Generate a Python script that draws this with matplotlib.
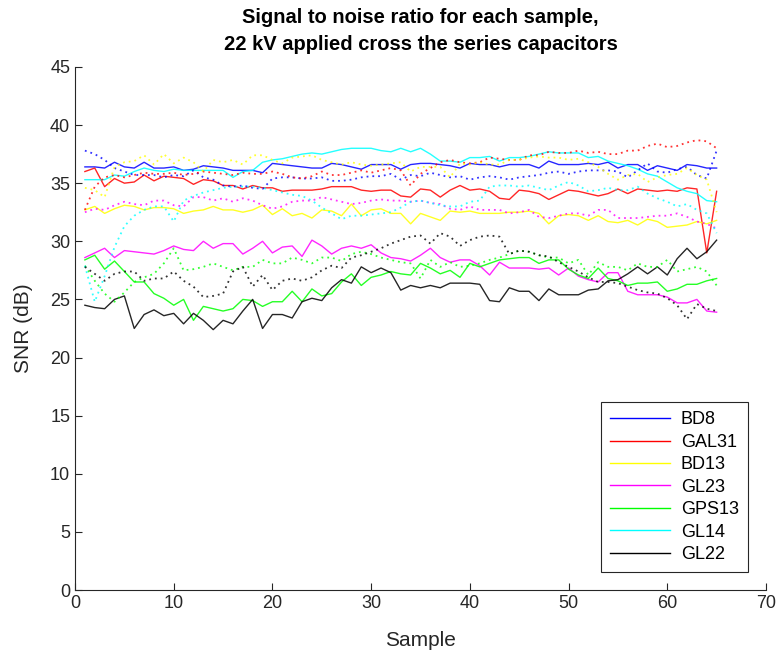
import numpy as np
import matplotlib
matplotlib.use("Agg")
import matplotlib.pyplot as plt

plt.rcParams['font.family'] = ['Liberation Sans', 'DejaVu Sans']

# SNR per sample (dB), two runs per capacitor: solid = run 1, dotted = run 2
names = ['BD8', 'GAL31', 'BD13', 'GL23', 'GPS13', 'GL14', 'GL22']
colors = ['#0000ff', '#ff0000', '#ffff00', '#ff00ff', '#00ff00', '#00ffff', '#000000']

BD8 = [36.4, 36.4, 36.3, 36.8, 36.4, 36.3, 36.8, 36.3, 36.3, 36.4, 36.1, 36.2, 36.5, 36.4, 36.3, 36.1,
       36.1, 36.1, 35.9, 36.7, 36.6, 36.5, 36.4, 36.3, 36.3, 36.7, 36.6, 36.4, 36.2, 36.6, 36.6, 36.6,
       36.2, 36.6, 36.7, 36.7, 36.6, 36.5, 36.3, 36.7, 36.6, 36.6, 36.4, 36.6, 36.6, 36.6, 36.3, 36.9,
       36.6, 36.6, 36.6, 36.7, 36.6, 36.8, 36.3, 36.6, 36.6, 36.1, 36.5, 36.3, 36.1, 36.6, 36.5, 36.3, 36.3]
GAL31 = [36.0, 36.3, 34.7, 35.4, 35.0, 35.1, 35.7, 35.2, 35.6, 35.5, 35.4, 34.9, 35.3, 35.2, 34.8, 34.8,
         34.5, 34.8, 34.6, 34.6, 34.3, 34.4, 34.4, 34.4, 34.5, 34.7, 34.7, 34.7, 34.4, 34.3, 34.4, 34.4,
         33.9, 33.8, 34.5, 34.4, 33.8, 34.4, 34.8, 34.4, 34.5, 34.3, 33.7, 33.6, 34.4, 34.3, 34.1, 33.6,
         34.0, 34.4, 34.3, 34.1, 33.9, 34.1, 34.5, 34.1, 34.5, 34.4, 34.3, 34.4, 34.3, 34.6, 34.5, 29.0, 34.3]
BD13 = [32.7, 33.0, 32.4, 32.8, 33.1, 33.0, 32.7, 32.9, 32.9, 32.8, 32.4, 32.6, 32.7, 33.0, 32.7, 32.7,
        32.5, 32.7, 33.1, 32.3, 32.8, 32.2, 32.4, 32.0, 32.7, 32.6, 32.2, 33.2, 32.2, 32.7, 32.8, 32.4,
        32.4, 31.5, 32.4, 32.1, 31.8, 32.6, 32.5, 32.6, 32.4, 32.4, 32.4, 32.5, 32.5, 32.6, 32.4, 31.5,
        32.2, 32.3, 32.2, 31.8, 32.2, 31.7, 31.6, 31.8, 31.4, 31.9, 31.7, 31.2, 31.3, 31.4, 31.7, 31.5, 31.8]
GL23 = [28.6, 29.0, 29.4, 28.6, 29.2, 29.1, 29.0, 28.9, 29.2, 29.6, 29.3, 29.2, 30.0, 29.4, 29.8, 29.8,
        28.9, 29.4, 30.0, 29.0, 29.5, 29.6, 28.7, 30.1, 29.6, 28.9, 29.4, 29.6, 29.4, 29.7, 29.0, 28.6,
        28.5, 28.3, 28.8, 29.4, 28.6, 28.2, 28.4, 28.4, 27.9, 27.1, 28.2, 27.7, 27.7, 27.7, 27.6, 27.7,
        27.1, 27.7, 27.0, 26.7, 26.5, 27.3, 27.3, 25.7, 25.4, 25.4, 25.4, 25.2, 24.7, 24.7, 25.0, 24.0, 23.9]
GPS13 = [28.4, 28.8, 27.6, 28.3, 27.4, 26.5, 26.5, 25.5, 25.1, 24.5, 25.0, 23.2, 24.4, 24.2, 24.0, 24.2,
         25.0, 24.9, 24.4, 24.8, 24.8, 25.7, 24.8, 25.9, 25.3, 25.5, 26.5, 27.2, 26.2, 26.9, 27.1, 27.4,
         27.2, 27.1, 28.1, 27.7, 27.2, 27.5, 26.9, 28.1, 27.8, 28.1, 28.4, 28.5, 28.6, 28.6, 28.1, 28.4,
         28.4, 27.6, 27.1, 26.8, 27.7, 26.8, 26.6, 26.2, 26.4, 26.4, 26.5, 25.7, 25.9, 26.3, 26.3, 26.6, 26.8]
GL14 = [35.3, 35.3, 35.3, 35.7, 35.6, 36.0, 36.3, 36.1, 36.0, 36.2, 36.1, 36.1, 36.1, 36.1, 36.1, 35.5,
        36.0, 36.1, 36.8, 37.0, 37.1, 37.3, 37.5, 37.6, 37.5, 37.7, 37.9, 38.0, 38.0, 38.0, 37.8, 37.7,
        38.0, 37.7, 38.0, 37.5, 36.9, 36.9, 36.8, 37.2, 37.2, 37.3, 36.9, 37.2, 37.2, 37.3, 37.5, 37.7,
        37.6, 37.6, 37.6, 37.2, 37.3, 36.9, 36.7, 36.5, 36.2, 35.8, 35.6, 35.1, 34.6, 34.3, 34.1, 33.5, 33.4]
GL22 = [24.5, 24.3, 24.2, 25.0, 25.3, 22.5, 23.7, 24.1, 23.6, 23.8, 22.9, 23.8, 23.2, 22.4, 23.2, 22.9,
        24.0, 25.0, 22.5, 23.7, 23.7, 23.4, 24.8, 25.1, 24.9, 26.0, 26.7, 26.4, 27.8, 27.3, 27.7, 27.3,
        25.8, 26.2, 26.0, 26.2, 26.0, 26.4, 26.4, 26.4, 26.3, 24.9, 24.8, 26.0, 25.7, 25.7, 24.9, 25.9,
        25.4, 25.4, 25.4, 25.8, 25.9, 26.6, 26.7, 27.2, 27.8, 27.2, 27.8, 27.1, 28.5, 29.4, 28.5, 29.1, 30.1]

BD8_2 = [37.8, 37.5, 37.0, 36.3, 36.0, 35.7, 35.7, 35.7, 35.5, 35.7, 35.6, 36.1, 35.5, 35.3, 34.8, 34.7,
         34.8, 34.6, 34.5, 35.4, 35.5, 35.5, 35.4, 35.4, 35.5, 35.2, 35.2, 35.3, 35.5, 35.6, 35.6, 35.8,
         35.3, 35.7, 35.6, 35.9, 35.7, 35.5, 35.6, 35.3, 35.5, 35.6, 35.5, 35.3, 35.5, 35.6, 35.7, 35.9,
         36.0, 35.8, 36.0, 36.1, 36.1, 36.1, 36.0, 35.5, 36.1, 36.7, 36.0, 35.9, 36.2, 36.4, 35.7, 35.4, 37.8]
GAL31_2 = [32.7, 34.7, 35.5, 35.7, 35.5, 35.7, 35.9, 35.8, 35.8, 35.9, 35.7, 35.8, 36.0, 35.9, 35.8, 35.7,
           35.9, 35.8, 35.8, 36.0, 35.8, 35.5, 35.4, 35.6, 36.0, 35.7, 35.7, 35.9, 36.1, 35.9, 36.1, 36.3,
           36.1, 34.8, 35.8, 36.3, 36.8, 37.0, 36.8, 36.7, 36.8, 37.2, 37.1, 37.0, 37.0, 37.4, 37.4, 37.7,
           37.6, 37.6, 37.8, 37.6, 37.7, 37.5, 37.5, 37.8, 37.8, 38.2, 38.4, 38.1, 38.2, 38.5, 38.7, 38.6, 38.0]
BD13_2 = [34.6, 34.4, 33.8, 36.4, 36.8, 36.9, 37.4, 36.6, 37.5, 36.7, 37.2, 36.8, 36.0, 37.0, 36.8, 37.0,
          36.6, 37.4, 37.4, 37.0, 36.7, 37.2, 37.3, 37.4, 37.0, 36.8, 36.6, 36.8, 36.6, 36.5, 36.6, 36.7,
          36.8, 36.0, 36.4, 36.4, 36.4, 35.5, 36.7, 36.6, 36.8, 36.6, 36.6, 37.0, 37.0, 37.2, 37.3, 37.2,
          37.2, 37.0, 37.1, 36.8, 36.4, 35.8, 35.3, 35.7, 35.8, 35.1, 35.5, 35.7, 35.8, 36.3, 35.7, 35.3, 32.5]
GL23_2 = [32.5, 32.8, 32.7, 33.1, 33.4, 33.2, 33.1, 33.5, 33.5, 33.1, 33.0, 33.8, 33.8, 33.5, 33.7, 33.4,
          33.7, 33.5, 33.1, 32.8, 33.0, 33.4, 33.5, 33.5, 33.8, 33.6, 33.4, 33.2, 33.3, 33.5, 33.6, 33.5,
          33.5, 33.4, 33.5, 33.3, 33.2, 32.8, 32.7, 33.0, 32.7, 32.7, 32.7, 32.4, 32.5, 32.7, 32.1, 32.0,
          32.2, 32.4, 32.4, 32.2, 32.7, 32.7, 32.0, 32.0, 32.0, 32.1, 32.2, 32.2, 32.4, 32.1, 31.7, 31.5, 31.1]
GPS13_2 = [27.9, 26.6, 25.5, 24.8, 25.6, 26.5, 26.9, 27.2, 28.1, 29.4, 27.5, 27.6, 27.8, 28.1, 27.8, 27.5,
           27.8, 27.8, 28.4, 28.1, 28.1, 28.6, 28.4, 28.1, 28.6, 28.6, 28.3, 28.9, 29.1, 28.9, 28.6, 28.4,
           28.2, 28.1, 26.8, 28.4, 27.8, 28.2, 27.8, 27.9, 28.1, 28.4, 28.6, 28.9, 29.2, 29.1, 28.8, 28.6,
           28.6, 28.1, 28.4, 27.1, 28.2, 27.8, 27.8, 27.5, 28.1, 27.8, 27.8, 28.4, 27.4, 27.6, 27.8, 27.4, 26.2]
GL14_2 = [27.9, 24.8, 27.0, 29.5, 31.3, 32.2, 32.7, 33.0, 33.0, 31.7, 33.5, 33.9, 34.2, 34.4, 34.6, 34.7,
          34.7, 34.7, 34.6, 34.4, 34.2, 34.0, 33.9, 33.5, 32.9, 32.4, 31.9, 32.2, 32.2, 32.3, 32.4, 32.5,
          32.9, 33.4, 33.5, 33.3, 33.1, 33.0, 33.0, 33.4, 33.5, 34.7, 34.8, 34.8, 34.7, 34.8, 34.6, 34.4,
          34.8, 35.1, 34.8, 34.3, 34.4, 34.6, 34.4, 34.4, 34.7, 34.1, 33.7, 33.4, 33.0, 33.2, 32.7, 32.4, 30.7]
GL22_2 = [27.8, 27.2, 26.6, 27.2, 27.4, 27.4, 26.6, 26.8, 26.8, 27.4, 26.6, 26.1, 25.2, 25.3, 25.5, 27.4,
          27.8, 26.1, 27.1, 25.8, 26.6, 26.8, 26.6, 26.9, 27.5, 27.9, 27.7, 28.6, 28.8, 29.1, 29.4, 29.8,
          30.1, 30.4, 30.5, 29.8, 30.7, 30.4, 29.6, 30.1, 30.4, 30.5, 30.4, 28.9, 29.2, 29.1, 28.8, 28.7,
          28.2, 27.8, 27.4, 26.9, 26.5, 26.5, 26.4, 26.1, 25.8, 25.6, 25.5, 25.1, 24.5, 23.3, 24.6, 24.2, 24.0]

run1 = [BD8, GAL31, BD13, GL23, GPS13, GL14, GL22]
run2 = [BD8_2, GAL31_2, BD13_2, GL23_2, GPS13_2, GL14_2, GL22_2]

fig = plt.figure(figsize=(7.79, 6.58), dpi=100)
ax = fig.add_axes([0.0963, 0.1033, 0.887, 0.795])

for name, c, y in zip(names, colors, run1):
    ax.plot(np.arange(1, len(y) + 1), y, color=c, lw=1.0, alpha=0.85, label=name)
for c, y in zip(colors, run2):
    ax.plot(np.arange(1, len(y) + 1), y, color=c, lw=1.3, ls=(0, (1, 2.2)), alpha=0.8)

ax.set_xlim(0, 70)
ax.set_ylim(0, 45)
ax.set_xticks(np.arange(0, 71, 10))
ax.set_yticks(np.arange(0, 46, 5))

axc = '#262626'
for side in ['top', 'right']:
    ax.spines[side].set_visible(False)
for side in ['left', 'bottom']:
    ax.spines[side].set_color(axc)
    ax.spines[side].set_linewidth(0.8)
ax.tick_params(direction='in', length=5, width=0.8, colors=axc, labelsize=13)

ax.set_xlabel('Sample', fontsize=15, color=axc, labelpad=14)
ax.set_ylabel('SNR (dB)', fontsize=15, color=axc, labelpad=12)
ax.set_title('Signal to noise ratio for each sample,\n22 kV applied cross the series capacitors',
             fontsize=14.5, fontweight='bold', pad=12, linespacing=1.55)

leg = ax.legend(loc='lower right', fontsize=13, handlelength=3.3, handletextpad=0.6,
                fancybox=False, framealpha=1, edgecolor='#262626', borderaxespad=1.0,
                labelspacing=0.3, borderpad=0.5)
leg.get_frame().set_linewidth(0.8)
for h in leg.get_lines():
    h.set_alpha(1.0)

fig.savefig('out.png', dpi=100)
